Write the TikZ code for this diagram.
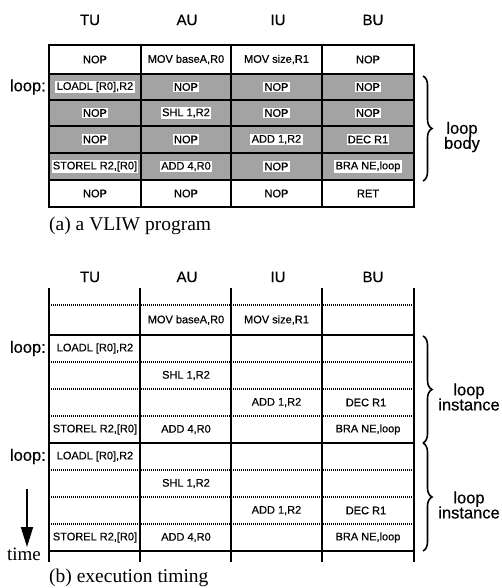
\documentclass[tikz,border=0pt]{standalone}
\usepackage{fontspec}
\setmainfont{Liberation Serif}
\setsansfont{Liberation Sans}
\newfontfamily\heavysans[FakeBold=0.4]{Liberation Sans}
\usetikzlibrary{arrows.meta,decorations.pathreplacing}
\begin{document}
\begin{tikzpicture}[x=1pt,y=-1pt,
 hdr/.style={font=\heavysans\fontsize{15}{16}\selectfont, inner sep=0pt},
 cell/.style={font=\heavysans\fontsize{11}{12}\selectfont, inner sep=1.3pt},
 scell/.style={cell, fill=white},
 lbl/.style={font=\heavysans\fontsize{16.5}{17}\selectfont, inner sep=0pt, align=center},
 captxt/.style={font=\rmfamily\fontsize{19.5}{21}\selectfont, inner sep=0pt, anchor=west},
 shade/.style={fill=black!36},
 thickline/.style={line width=2.8pt},
 midline/.style={line width=2.2pt},
 solidrow/.style={line width=1.9pt},
 dotline/.style={line width=1.4pt, dash pattern=on 1.1pt off 0.9pt},
 brc/.style={decorate, decoration={brace, amplitude=9pt}, line width=1.6pt},
]
\useasboundingbox (0,0) rectangle (501,588);

% ---------- (a) VLIW program ----------
\node[hdr] (ha1) at (90,20) {TU};
\node[hdr] (ha2) at (187,20) {AU};
\node[hdr] (ha3) at (278,20) {IU};
\node[hdr] (ha4) at (373,20) {BU};

\fill[shade] (49,74) rectangle (414,180);
\foreach \y in {74,100,126,153,180} \draw[midline] (49,\y) -- (414,\y);
\foreach \x in {141,231,322} \draw[midline] (\x,45) -- (\x,207);
\draw[thickline] (49,45) rectangle (414,207);

% row 1
\node[cell] (a11) at (95,59.5) {NOP};
\node[cell] (a12) at (186,59.5) {MOV baseA,R0};
\node[cell] (a13) at (276.5,59.5) {MOV size,R1};
\node[cell] (a14) at (368,59.5) {NOP};
% row 2
\node[scell] (a21) at (95,87) {LOADL [R0],R2};
\node[scell] (a22) at (186,87) {NOP};
\node[scell] (a23) at (276.5,87) {NOP};
\node[scell] (a24) at (368,87) {NOP};
% row 3
\node[scell] (a31) at (95,113) {NOP};
\node[scell] (a32) at (186,113) {SHL 1,R2};
\node[scell] (a33) at (276.5,113) {NOP};
\node[scell] (a34) at (368,113) {NOP};
% row 4
\node[scell] (a41) at (95,139.5) {NOP};
\node[scell] (a42) at (186,139.5) {NOP};
\node[scell] (a43) at (276.5,139.5) {ADD 1,R2};
\node[scell] (a44) at (368,139.5) {DEC R1};
% row 5
\node[scell] (a51) at (95,166.5) {STOREL R2,[R0]};
\node[scell] (a52) at (186,166.5) {ADD 4,R0};
\node[scell] (a53) at (276.5,166.5) {NOP};
\node[scell] (a54) at (368,166.5) {BRA NE,loop};
% row 6
\node[cell] (a61) at (95,193.5) {NOP};
\node[cell] (a62) at (186,193.5) {NOP};
\node[cell] (a63) at (276.5,193.5) {NOP};
\node[cell] (a64) at (368,193.5) {RET};

\node[lbl, anchor=east] (loopa) at (46,87) {loop:};
\coordinate (ba1) at (423,76);
\coordinate (ba2) at (423,181);
\draw[brc] (ba1) -- (ba2);
\node[lbl] (body) at (462,137) {loop\\[-2pt]body};

\node[captxt] (capa) at (49,226) {(a) a VLIW program};

% ---------- (b) execution timing ----------
\node[hdr] (hb1) at (90,277) {TU};
\node[hdr] (hb2) at (187,277) {AU};
\node[hdr] (hb3) at (278,277) {IU};
\node[hdr] (hb4) at (373,277) {BU};

\foreach \y in {305,362,389,416,470,497,524} \draw[dotline] (49,\y) -- (414,\y);
\foreach \y in {335,443,551} \draw[solidrow] (49,\y) -- (414,\y);
\foreach \x in {49,140,231,322,414} \draw[thickline] (\x,288) -- (\x,562);

\node[cell] (b02) at (186,320) {MOV baseA,R0};
\node[cell] (b03) at (276.5,320) {MOV size,R1};

\node[cell] (b11) at (95,348.5) {LOADL [R0],R2};
\node[cell] (b22) at (186,375.5) {SHL 1,R2};
\node[cell] (b33) at (276.5,402.5) {ADD 1,R2};
\node[cell] (b34) at (366,402.5) {DEC R1};
\node[cell] (b41) at (95,429.5) {STOREL R2,[R0]};
\node[cell] (b42) at (186,429.5) {ADD 4,R0};
\node[cell] (b44) at (368,429.5) {BRA NE,loop};

\node[cell] (b51) at (95,456.5) {LOADL [R0],R2};
\node[cell] (b62) at (186,483.5) {SHL 1,R2};
\node[cell] (b73) at (276.5,510.5) {ADD 1,R2};
\node[cell] (b74) at (366,510.5) {DEC R1};
\node[cell] (b81) at (95,537.5) {STOREL R2,[R0]};
\node[cell] (b82) at (186,537.5) {ADD 4,R0};
\node[cell] (b84) at (368,537.5) {BRA NE,loop};

\node[lbl, anchor=east] (loopb1) at (46,348.5) {loop:};
\node[lbl, anchor=east] (loopb2) at (46,456.5) {loop:};

\coordinate (bb1) at (423,336);
\coordinate (bb2) at (423,443);
\coordinate (bb3) at (423,551);
\draw[brc] (bb1) -- (bb2);
\draw[brc] (bb2) -- (bb3);
\node[lbl] (inst1) at (469,397) {loop\\[-2pt]instance};
\node[lbl] (inst2) at (469,505) {loop\\[-2pt]instance};

\coordinate (ts) at (27,489);
\coordinate (te) at (27,547);
\draw[line width=1.8pt, -{Triangle[width=12pt,length=20pt]}] (ts) -- (te);
\node[font=\rmfamily\fontsize{19}{20}\selectfont, inner sep=0pt] (time) at (24,554) {time};

\node[captxt] (capb) at (49,578) {(b) execution timing};
\end{tikzpicture}
\end{document}
